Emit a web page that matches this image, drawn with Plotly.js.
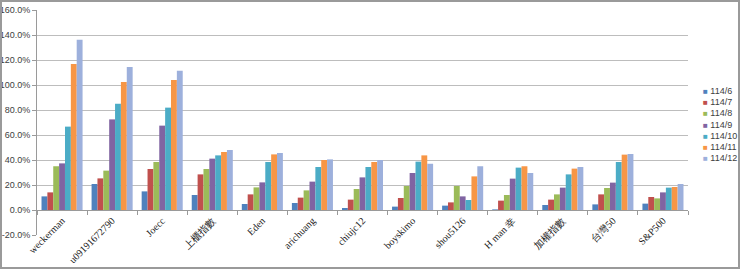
<!DOCTYPE html>
<html>
<head>
<meta charset="utf-8">
<script src="https://cdn.plot.ly/plotly-3.0.1.min.js"></script>
<style>
html,body{margin:0;padding:0;background:#fff;}
#wrap{position:relative;width:740px;height:269px;}
#chart{width:740px;height:269px;}
#frame{position:absolute;left:0;top:0;width:740px;height:269px;box-sizing:border-box;border:2px solid #9a9a9a;pointer-events:none;}
</style>
</head>
<body>
<div id="wrap"><div id="chart"></div><div id="frame"></div></div>
<script>
const categories = ["weckerman","u09191672790","Joecc","上櫃指數","Eden","arichuang","chiujc12","boyskimo","shou5126","H man 幸","加權指數","台灣50","S&P500"];
const seriesNames = ["114/6","114/7","114/8","114/9","114/10","114/11","114/12"];
const s114_6  = [10.9, 20.8, 14.9, 12.0, 4.8, 5.6, 1.6, 2.7, 3.5, 0.5, 4.0, 4.5, 5.1];
const s114_7  = [14.1, 25.3, 32.8, 28.5, 12.5, 9.9, 8.3, 9.6, 6.1, 7.5, 8.3, 12.5, 10.4];
const s114_8  = [35.0, 31.5, 38.4, 32.8, 18.1, 15.7, 16.8, 19.2, 19.2, 12.0, 12.5, 17.6, 9.3];
const s114_9  = [37.3, 72.5, 67.5, 41.1, 22.1, 22.7, 26.1, 29.6, 10.9, 25.1, 17.9, 21.9, 14.1];
const s114_10 = [66.7, 85.0, 81.9, 43.7, 38.4, 34.4, 34.4, 38.7, 8.0, 33.9, 28.5, 38.4, 17.9];
const s114_11 = [116.8, 102.4, 104.0, 46.4, 44.5, 40.0, 38.4, 43.7, 26.9, 35.0, 33.1, 44.3, 18.4];
const s114_12 = [136.3, 114.4, 111.5, 48.0, 45.6, 40.5, 40.0, 37.0, 35.0, 29.6, 34.4, 44.8, 20.8];
const yTickVals = [-20, 0, 20, 40, 60, 80, 100, 120, 140, 160];

const seriesValues = [s114_6, s114_7, s114_8, s114_9, s114_10, s114_11, s114_12];
const colors = ["#4F81BD","#C0504D","#9BBB59","#8064A2","#4BACC6","#F79646","#9DB0DC"];

const traces = seriesValues.map((vals, i) => ({
  type: "bar",
  name: seriesNames[i],
  x: categories,
  y: vals,
  marker: {color: colors[i], line: {width: 0}},
  hoverinfo: "none"
}));

// compact legend (Excel style) built from the series names and colours
const legendAnnotations = seriesNames.map((n, i) => ({
  xref: "paper", yref: "paper",
  x: 1.02, y: (235 - (91 + i * 11.2)) / 225,
  xanchor: "left", yanchor: "middle",
  showarrow: false,
  align: "left",
  text: '<span style="color:' + colors[i] + ';font-size:8px">■</span> ' + n,
  font: {family: "Liberation Sans, Arial, sans-serif", size: 9, color: "#404040"}
}));

const layout = {
  width: 740,
  height: 269,
  margin: {l: 37, r: 52, t: 10, b: 34, pad: 0},
  paper_bgcolor: "#ffffff",
  plot_bgcolor: "#ffffff",
  barmode: "group",
  bargap: 0.18,
  bargroupgap: 0,
  showlegend: false,
  annotations: legendAnnotations,
  xaxis: {
    type: "category",
    anchor: "free",
    position: 20/180,
    showline: true,
    linecolor: "#9a9a9a",
    linewidth: 1,
    ticks: "outside",
    tickson: "boundaries",
    ticklen: 4,
    tickcolor: "#9a9a9a",
    tickangle: -45,
    tickfont: {family: "Liberation Serif, Times New Roman, serif", size: 10, color: "#202020"},
    showgrid: false,
    automargin: false,
    fixedrange: true
  },
  yaxis: {
    range: [-20, 160],
    tickvals: yTickVals,
    ticktext: yTickVals.map(v => v.toFixed(1) + "%"),
    showgrid: true,
    gridcolor: "#bdbdbd",
    gridwidth: 1,
    zeroline: false,
    showline: true,
    linecolor: "#9a9a9a",
    linewidth: 1,
    ticks: "outside",
    ticklen: 4,
    tickcolor: "#9a9a9a",
    tickfont: {family: "Liberation Sans, Arial, sans-serif", size: 9, color: "#404040"},
    automargin: false,
    fixedrange: true
  }
};

Plotly.newPlot("chart", traces, layout, {displayModeBar: false, staticPlot: true});
</script>
</body>
</html>
